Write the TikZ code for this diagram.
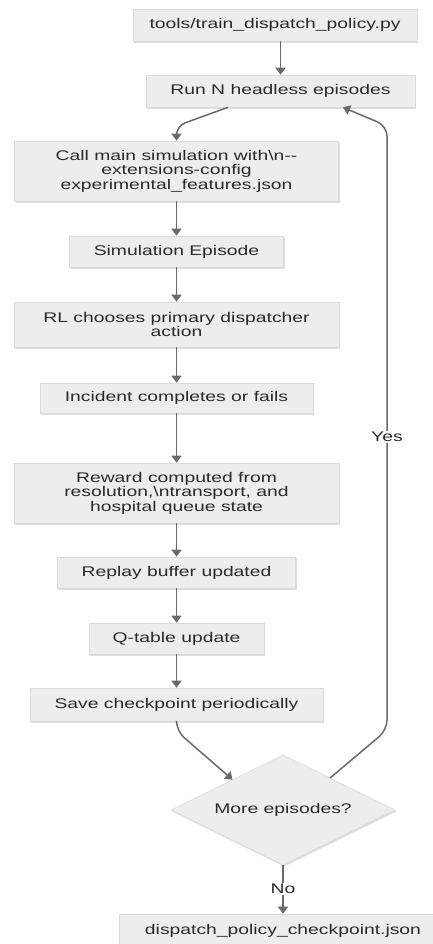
\documentclass[tikz,border=0pt]{standalone}
\usepackage{fontspec}
\setmainfont{Liberation Sans}[FakeStretch=1.38]
\usetikzlibrary{arrows.meta,shapes.geometric,shadows,calc}
\definecolor{boxfill}{HTML}{EDEDED}
\definecolor{boxline}{HTML}{DADADA}
\definecolor{txtc}{HTML}{2A2A2A}
\definecolor{linec}{HTML}{6A6A6A}
\begin{document}
\begin{tikzpicture}[x=1pt,y=-1pt,
  box/.style={draw=boxline, line width=0.6pt, fill=boxfill, text=txtc, align=center,
    inner sep=0pt, font=\fontsize{14}{14.4}\selectfont,
    drop shadow={shadow xshift=1.2pt, shadow yshift=-1.6pt, fill=black!22, opacity=0.6}},
  decision/.style={diamond, draw=boxline, line width=0.6pt, fill=boxfill, inner sep=0pt,
    minimum width=224pt, minimum height=110pt,
    drop shadow={shadow xshift=1.2pt, shadow yshift=-1.6pt, fill=black!22, opacity=0.6}},
  txt/.style={text=txtc, font=\fontsize{14}{14.4}\selectfont, inner sep=1pt},
  arr/.style={draw=linec, line width=1.5pt, -{Triangle[width=10pt,length=7pt]}},
  lbl/.style={fill=white, text=txtc, font=\fontsize{14}{14.4}\selectfont, inner sep=1.5pt}]
\clip (0,0) rectangle (433,944);
\fill[white] (0,0) rectangle (433,944);

\node[box, minimum width=284pt, minimum height=32pt] (b1) at (275,25) {tools/train\_dispatch\_policy.py};
\node[box, minimum width=269pt, minimum height=32pt] (b2) at (280.5,91) {Run N headless episodes};
\node[box, minimum width=324pt, minimum height=60pt] (b3) at (176.5,171) {Call main simulation with\textbackslash n-{}-\\extensions-config\\experimental\_features.json};
\node[box, minimum width=214pt, minimum height=31pt] (b4) at (176.5,251.5) {Simulation Episode};
\node[box, minimum width=325pt, minimum height=45pt] (b5) at (176.5,324.5) {RL chooses primary dispatcher\\action};
\node[box, minimum width=273pt, minimum height=30pt] (b6) at (176.5,398) {Incident completes or fails};
\node[box, minimum width=325pt, minimum height=60pt] (b7) at (176.5,493) {Reward computed from\\resolution,\textbackslash ntransport, and\\hospital queue state};
\node[box, minimum width=238pt, minimum height=31pt] (b8) at (176.5,572.5) {Replay buffer updated};
\node[box, minimum width=175pt, minimum height=31pt] (b9) at (176.5,638.5) {Q-table update};
\node[box, minimum width=293pt, minimum height=33pt] (b10) at (176.5,704.5) {Save checkpoint periodically};
\node[decision] (dec) at (283,810) {};
\node[txt] (dectxt) at (dec.center) {More episodes?};
\node[box, minimum width=328pt, minimum height=34pt] (b11) at (283,931) {dispatch\_policy\_checkpoint.json};

\coordinate (dIn) at ($(dec.north)!0.45!(dec.west)$);
\coordinate (dOut) at ($(dec.north)!0.42!(dec.east)$);

\draw[arr] (b1.south -| b2.north) -- (b2.north);
\draw[arr, rounded corners=9pt] ([xshift=-52.5pt]b2.south) -- (176.5,126) -- (b3.north);
\draw[arr] (b3.south) -- (b4.north);
\draw[arr] (b4.south) -- (b5.north);
\draw[arr] (b5.south) -- (b6.north);
\draw[arr] (b6.south) -- (b7.north);
\draw[arr] (b7.south) -- (b8.north);
\draw[arr] (b8.south) -- (b9.north);
\draw[arr] (b9.south) -- (b10.north);
\draw[arr, rounded corners=10pt] (b10.south) -- (176.5,731) -- (dIn);
\draw[arr, rounded corners=10pt] (dOut) -- (387,730) -- (387,126) -- ([xshift=62.5pt]b2.south);
\node[lbl] (yes) at (387,437) {Yes};
\draw[arr] (dec.south) -- (b11.north);
\node[lbl] (no) at (283,889) {No};
\end{tikzpicture}
\end{document}
